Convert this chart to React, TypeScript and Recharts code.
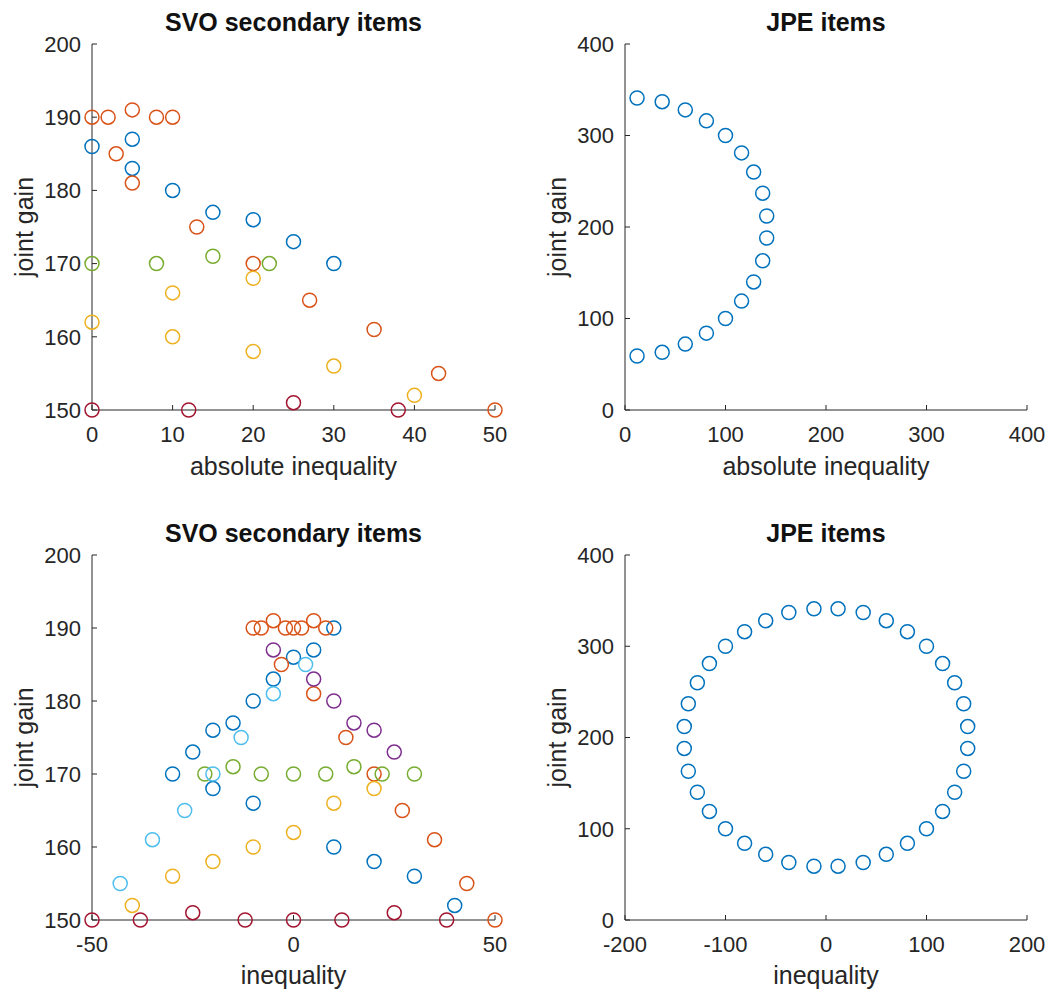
import { ScatterChart, Scatter, XAxis, YAxis } from 'recharts';

// MATLAB default colour order
const BLUE = '#0072BD';
const ORANGE = '#D95319';
const YELLOW = '#EDB120';
const PURPLE = '#7E2F8E';
const GREEN = '#77AC30';
const LIGHTBLUE = '#4DBEEE';
const DARKRED = '#A2142F';

// SVO secondary items, absolute inequality vs joint gain
const absBlue = [[0, 186], [5, 187], [5, 183], [10, 180], [15, 177], [20, 176], [25, 173], [30, 170]];
const absOrange = [
  [0, 190], [2, 190], [5, 191], [8, 190], [10, 190],
  [3, 185], [5, 181], [13, 175], [20, 170], [27, 165], [35, 161], [43, 155], [50, 150],
];
const absYellow = [[0, 162], [10, 166], [10, 160], [20, 168], [20, 158], [30, 156], [40, 152]];
const absGreen = [[0, 170], [8, 170], [15, 171], [22, 170]];
const absDarkRed = [[0, 150], [12, 150], [25, 151], [38, 150]];

// SVO secondary items, signed inequality vs joint gain
const svoBlue = [
  [-30, 170], [-25, 173], [-20, 176], [-15, 177], [-10, 180], [-5, 183], [0, 186], [5, 187], [10, 190],
  [-20, 168], [-10, 166], [10, 160], [20, 158], [30, 156], [40, 152],
];
const svoOrange = [
  [-10, 190], [-8, 190], [-5, 191], [-2, 190], [0, 190], [2, 190], [5, 191], [8, 190],
  [-3, 185], [5, 181], [13, 175], [20, 170], [27, 165], [35, 161], [43, 155], [50, 150],
];
const svoYellow = [[-40, 152], [-30, 156], [-20, 158], [-10, 160], [0, 162], [10, 166], [20, 168]];
const svoPurple = [[-5, 187], [5, 183], [10, 180], [15, 177], [20, 176], [25, 173]];
const svoGreen = [[-22, 170], [-15, 171], [-8, 170], [0, 170], [8, 170], [15, 171], [22, 170], [30, 170]];
const svoLightBlue = [[3, 185], [-5, 181], [-13, 175], [-20, 170], [-27, 165], [-35, 161], [-43, 155]];
const svoDarkRed = [[-50, 150], [-38, 150], [-25, 151], [-12, 150], [0, 150], [12, 150], [25, 151], [38, 150]];

// JPE items (right half, absolute inequality)
const jpeAbs = [
  [12, 341], [37, 337], [60, 328], [81, 316], [100, 300], [116, 281], [128, 260], [137, 237], [141, 212],
  [141, 188], [137, 163], [128, 140], [116, 119], [100, 100], [81, 84], [60, 72], [37, 63], [12, 59],
];
// JPE items (full ring, signed inequality)
const jpeSigned = [
  [12, 341], [37, 337], [60, 328], [81, 316], [100, 300], [116, 281], [128, 260], [137, 237], [141, 212],
  [141, 188], [137, 163], [128, 140], [116, 119], [100, 100], [81, 84], [60, 72], [37, 63], [12, 59],
  [-12, 59], [-37, 63], [-60, 72], [-81, 84], [-100, 100], [-116, 119], [-128, 140], [-137, 163], [-141, 188],
  [-141, 212], [-137, 237], [-128, 260], [-116, 281], [-100, 300], [-81, 316], [-60, 328], [-37, 337], [-12, 341],
];

const FONT = '"Liberation Sans", Arial, Helvetica, sans-serif';
const INK = '#262626';

type Series = { pts: number[][]; color: string };

const toObj = (pts: number[][]) => pts.map(([x, y]) => ({ x, y }));

function ring(color: string) {
  return (p: any) => (
    <circle cx={p.cx} cy={p.cy} r={7} fill="none" stroke={color} strokeWidth={1.5} />
  );
}

interface PanelProps {
  left: number;
  top: number;
  width: number;
  height: number;
  marginTop: number;
  marginRight: number;
  xHeight: number;
  title: string;
  xLabel: string;
  xDomain: [number, number];
  xTicks: number[];
  yDomain: [number, number];
  yTicks: number[];
  series: Series[];
  xLabelDy: number;
}

function Panel(p: PanelProps) {
  const plotLeft = 92;
  const plotW = p.width - plotLeft - p.marginRight;
  return (
    <div style={{ position: 'absolute', left: p.left, top: p.top, width: p.width, height: p.height }}>
      <div
        style={{
          position: 'absolute',
          left: plotLeft,
          width: plotW,
          top: p.marginTop - 36,
          textAlign: 'center',
          fontFamily: FONT,
          fontWeight: 'bold',
          fontSize: 25,
          color: '#111',
          lineHeight: '28px',
        }}
      >
        {p.title}
      </div>
      <ScatterChart
        width={p.width}
        height={p.height}
        margin={{ top: p.marginTop, right: p.marginRight, bottom: 0, left: 0 }}
      >
        <XAxis
          type="number"
          dataKey="x"
          domain={p.xDomain}
          ticks={p.xTicks}
          interval={0}
          height={p.xHeight}
          tickSize={-5}
          tickMargin={21}
          stroke={INK}
          tick={{ fill: INK, fontSize: 22, fontFamily: FONT }}
          label={{ value: p.xLabel, position: 'center', dy: p.xLabelDy, fill: INK, fontSize: 25, fontFamily: FONT }}
        />
        <YAxis
          type="number"
          dataKey="y"
          domain={p.yDomain}
          ticks={p.yTicks}
          interval={0}
          width={plotLeft}
          tickSize={-5}
          tickMargin={16}
          stroke={INK}
          tick={{ fill: INK, fontSize: 22, fontFamily: FONT }}
          label={{ value: 'joint gain', angle: -90, position: 'center', dx: -22, fill: INK, fontSize: 25, fontFamily: FONT }}
        />
        {p.series.map((s, i) => (
          <Scatter key={i} data={toObj(s.pts)} shape={ring(s.color)} isAnimationActive={false} />
        ))}
      </ScatterChart>
    </div>
  );
}

export default function App() {
  return (
    <div style={{ position: 'absolute', left: 0, top: 0, width: 1053, height: 994, background: '#fff' }}>
      <Panel
        left={0} top={0} width={530} height={480} marginTop={44} marginRight={35} xHeight={70}
        title="SVO secondary items" xLabel="absolute inequality" xLabelDy={21}
        xDomain={[0, 50]} xTicks={[0, 10, 20, 30, 40, 50]}
        yDomain={[150, 200]} yTicks={[150, 160, 170, 180, 190, 200]}
        series={[
          { pts: absBlue, color: BLUE },
          { pts: absOrange, color: ORANGE },
          { pts: absYellow, color: YELLOW },
          { pts: absGreen, color: GREEN },
          { pts: absDarkRed, color: DARKRED },
        ]}
      />
      <Panel
        left={533} top={0} width={520} height={480} marginTop={44} marginRight={26} xHeight={70}
        title="JPE items" xLabel="absolute inequality" xLabelDy={21}
        xDomain={[0, 400]} xTicks={[0, 100, 200, 300, 400]}
        yDomain={[0, 400]} yTicks={[0, 100, 200, 300, 400]}
        series={[{ pts: jpeAbs, color: BLUE }]}
      />
      <Panel
        left={0} top={500} width={530} height={494} marginTop={55} marginRight={35} xHeight={74}
        title="SVO secondary items" xLabel="inequality" xLabelDy={18}
        xDomain={[-50, 50]} xTicks={[-50, 0, 50]}
        yDomain={[150, 200]} yTicks={[150, 160, 170, 180, 190, 200]}
        series={[
          { pts: svoBlue, color: BLUE },
          { pts: svoOrange, color: ORANGE },
          { pts: svoYellow, color: YELLOW },
          { pts: svoPurple, color: PURPLE },
          { pts: svoGreen, color: GREEN },
          { pts: svoLightBlue, color: LIGHTBLUE },
          { pts: svoDarkRed, color: DARKRED },
        ]}
      />
      <Panel
        left={533} top={500} width={520} height={494} marginTop={55} marginRight={26} xHeight={74}
        title="JPE items" xLabel="inequality" xLabelDy={18}
        xDomain={[-200, 200]} xTicks={[-200, -100, 0, 100, 200]}
        yDomain={[0, 400]} yTicks={[0, 100, 200, 300, 400]}
        series={[{ pts: jpeSigned, color: BLUE }]}
      />
    </div>
  );
}
